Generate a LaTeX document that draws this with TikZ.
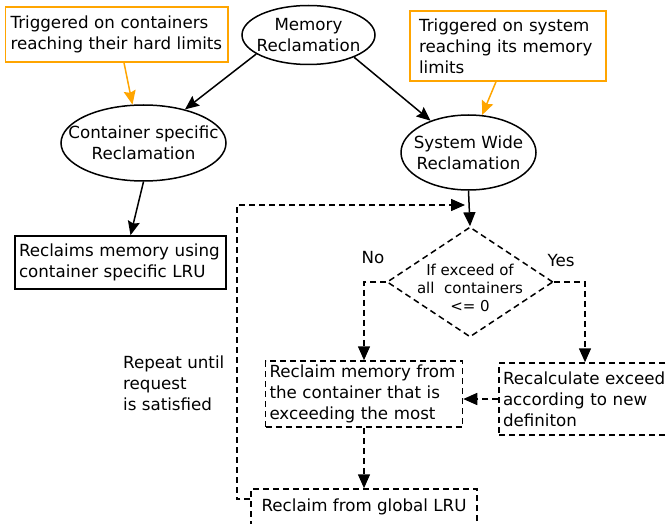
\documentclass[tikz,border=0pt]{standalone}
\usepackage{fontspec}
\setmainfont{DejaVu Sans}
\usetikzlibrary{arrows.meta,shapes.geometric}
\definecolor{orng}{RGB}{255,165,0}
\begin{document}
\begin{tikzpicture}[x=1pt,y=-1pt,
  every node/.style={font=\fontsize{16.7}{21}\selectfont},
  ell/.style={draw,ellipse,line width=1.5pt,inner sep=0pt},
  etxt/.style={align=center,inner sep=0pt},
  obox/.style={draw=orng,line width=1.5pt,rectangle,align=left,inner ysep=0pt},
  sbox/.style={draw,line width=1.5pt,rectangle,align=left,inner ysep=0pt},
  dpat/.style={line width=1.5pt,dash pattern=on 6pt off 4pt},
  dbox/.style={draw,dpat,rectangle,align=left,inner ysep=0pt},
  arr/.style={line width=1.5pt,-{Stealth[length=14pt,width=12pt,inset=2pt]}},
  oarr/.style={draw=orng,line width=1.5pt,-{Stealth[length=14pt,width=12pt,inset=2pt]}},
  varr/.style={line width=1.5pt,-{Triangle[length=14pt,width=12pt]}},
  darr/.style={dpat,-{Triangle[length=14pt,width=12pt]}}]
\useasboundingbox (0,0) rectangle (669,524);
\node[ell,minimum width=133pt,minimum height=59pt] (mem) at (308.5,35) {};
\node[etxt] (memt) at (mem.center) {Memory\\Reclamation};
\node[ell,minimum width=165pt,minimum height=76pt] (cont) at (143.5,143) {};
\node[etxt] (contt) at (cont.center) {Container specific\\Reclamation};
\node[ell,minimum width=135pt,minimum height=75pt] (sys) at (468.5,152.5) {};
\node[etxt] (syst) at (sys.center) {System Wide\\Reclamation};
\node[obox,text width=212.5pt,inner xsep=5pt,minimum height=55pt] (o1) at (116.75,34.5) {Triggered on containers\\reaching their hard limits};
\node[obox,text width=178pt,inner xsep=9pt,minimum height=70pt] (o2) at (508,46) {Triggered on system\\reaching its memory\\limits};
\node[sbox,text width=203pt,inner xsep=4pt,minimum height=53pt] (b1) at (120.5,262.5) {Reclaims memory using\\container specific LRU};
\node[draw,dpat,diamond,minimum width=166pt,minimum height=110pt,inner sep=0pt] (dia) at (470,282) {};
\node[font=\fontsize{15}{18.3}\selectfont,align=center,inner sep=0pt] (diat) at (470,288) {If exceed of\\all~~containers\\<= 0};
\node[dbox,text width=189pt,inner xsep=4pt,minimum height=66pt] (b2) at (364,394) {Reclaim memory from\\the container that is\\exceeding the most};
\node[dbox,text width=164pt,inner xsep=4pt,minimum height=72pt] (b3) at (585,399) {Recalculate exceed\\according to new\\definiton};
\node[dbox,minimum width=226pt,minimum height=36pt] (b4) at (364,507) {Reclaim from global LRU};
\node (no) at (373,258) {No};
\node (yes) at (561,261) {Yes};
\node[align=left,anchor=west,inner sep=0pt] (rep) at (123,383) {Repeat until\\request\\is satisfied};
\coordinate (loopend) at (465,205);
\draw[arr] (mem.200) -- (cont.39);
\draw[arr] (mem.-26) -- (sys.140);
\draw[oarr] ([xshift=7.25pt]o1.south) -- (cont.106);
\draw[oarr] ([xshift=-12pt]o2.south) -- (sys.70);
\draw[arr] (cont.south) -- ([xshift=-13pt]b1.north -| cont.south);
\draw[varr] (sys.south) -- (dia.north);
\draw[darr] (dia.west) -| (b2.north);
\draw[darr] (dia.east) -| (b3.north);
\draw[darr] (b3.west) -- (b3.west -| b2.east);
\draw[darr] (b2.south) -- (b4.north);
\draw[darr] ([yshift=8pt]b4.west) -- ++(-13.5,0) |- (loopend);
\end{tikzpicture}
\end{document}
